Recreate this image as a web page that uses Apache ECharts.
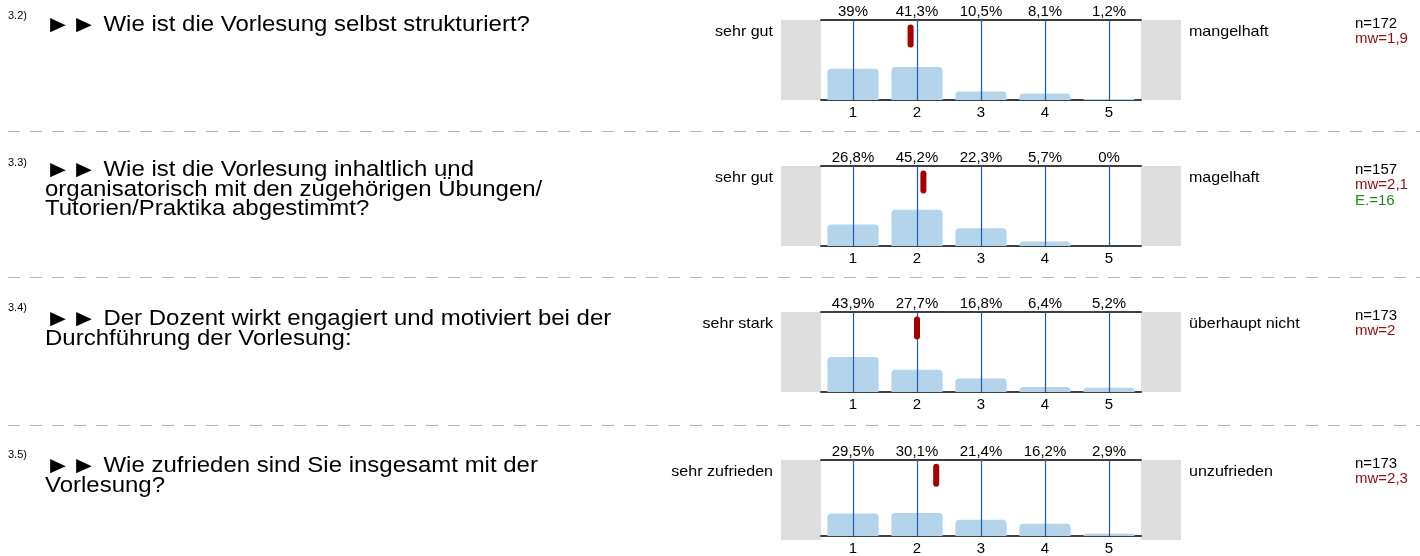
<!DOCTYPE html>
<html>
<head>
<meta charset="utf-8">
<script src="https://cdn.jsdelivr.net/npm/echarts@6/dist/echarts.min.js"></script>
<style>
html,body{margin:0;padding:0;background:#fff;}
#chart{width:1420px;height:556px;}
</style>
</head>
<body>
<div id="chart"></div>
<script>
// ---- data ----
const categories = ['1', '2', '3', '4', '5'];
const questionNumbers = ['3.2)', '3.3)', '3.4)', '3.5)'];
const questionLines = [
  ['Wie ist die Vorlesung selbst strukturiert?'],
  ['Wie ist die Vorlesung inhaltlich und', 'organisatorisch mit den zugehörigen Übungen/', 'Tutorien/Praktika abgestimmt?'],
  ['Der Dozent wirkt engagiert und motiviert bei der', 'Durchführung der Vorlesung:'],
  ['Wie zufrieden sind Sie insgesamt mit der', 'Vorlesung?']
];
const leftLabels = ['sehr gut', 'sehr gut', 'sehr stark', 'sehr zufrieden'];
const rightLabels = ['mangelhaft', 'magelhaft', 'überhaupt nicht', 'unzufrieden'];
const percentQ32 = [39, 41.3, 10.5, 8.1, 1.2];
const percentQ33 = [26.8, 45.2, 22.3, 5.7, 0];
const percentQ34 = [43.9, 27.7, 16.8, 6.4, 5.2];
const percentQ35 = [29.5, 30.1, 21.4, 16.2, 2.9];
const nValues = [172, 157, 173, 173];
const meanValues = [1.9, 2.1, 2, 2.3];
const abstentions = [null, 16, null, null];

// ---- layout ----
const percents = [percentQ32, percentQ33, percentQ34, percentQ35];
const tops = [20, 166, 312, 460];
const qLine1Center = [25, 170, 319, 466];
const numCenter = [16, 163, 308, 455];
const dividers = [131, 277, 425];
const FONT = '"Liberation Sans", Arial, sans-serif';
const fmt = v => String(v).replace('.', ',');

const chart = echarts.init(document.getElementById('chart'), null, {renderer: 'canvas'});
const option = {
  animation: false,
  backgroundColor: '#ffffff',
  grid: [], xAxis: [], yAxis: [], series: [], graphic: []
};

percents.forEach((pct, i) => {
  const top = tops[i];
  option.grid.push({left: 821, top: top, width: 320, height: 80, containLabel: false});
  const lineStyle = {color: '#3f3f3f', width: 2};
  option.xAxis.push({
    gridIndex: i, type: 'category', data: categories, position: 'bottom',
    axisLine: {lineStyle: lineStyle}, axisTick: {show: false}, splitLine: {show: false},
    axisLabel: {color: '#000', fontSize: 15, fontFamily: FONT, margin: 5}
  });
  option.xAxis.push({
    gridIndex: i, type: 'category', data: pct.map(v => fmt(v) + '%'), position: 'top',
    axisLine: {lineStyle: lineStyle}, axisTick: {show: false}, splitLine: {show: false},
    axisLabel: {color: '#000', fontSize: 15, fontFamily: FONT, margin: 1}
  });
  option.xAxis.push({gridIndex: i, type: 'value', min: 0.5, max: 5.5, show: false});
  option.yAxis.push({gridIndex: i, type: 'value', min: 0, max: 100, show: false});

  option.series.push({
    type: 'bar', xAxisIndex: 3 * i, yAxisIndex: i, data: pct,
    barCategoryGap: '20%',
    itemStyle: {color: '#b4d4eb', borderRadius: [4, 4, 0, 0]},
    silent: true,
    markLine: {
      silent: true, symbol: 'none', label: {show: false},
      lineStyle: {color: '#1d5aa8', width: 1.2, type: 'solid', opacity: 1},
      emphasis: {disabled: true},
      data: categories.map(c => ({xAxis: c}))
    }
  });
  option.series.push({
    type: 'scatter', xAxisIndex: 3 * i + 2, yAxisIndex: i,
    data: [[meanValues[i], 80]],
    symbol: 'path://M0,3A3,3,0,0,1,6,3L6,20A3,3,0,0,1,0,20Z',
    symbolSize: [6, 23],
    itemStyle: {color: '#a50000', opacity: 1}, z: 10, silent: true
  });

  // grey side boxes
  option.graphic.push({type: 'rect', shape: {x: 781, y: top, width: 40, height: 80}, style: {fill: '#dedede'}, silent: true});
  option.graphic.push({type: 'rect', shape: {x: 1141, y: top, width: 40, height: 80}, style: {fill: '#dedede'}, silent: true});
  // scale labels
  option.graphic.push({type: 'text', x: 773, y: top + 12, scaleX: 1.07, style: {text: leftLabels[i], fontSize: 15, fontFamily: FONT, fill: '#000', align: 'right', verticalAlign: 'middle'}});
  option.graphic.push({type: 'text', x: 1189, y: top + 12, scaleX: 1.07, style: {text: rightLabels[i], fontSize: 15, fontFamily: FONT, fill: '#000', align: 'left', verticalAlign: 'middle'}});
  // stats
  option.graphic.push({type: 'text', x: 1355, y: top + 4, style: {text: 'n=' + nValues[i], fontSize: 15, fontFamily: FONT, fill: '#000', align: 'left', verticalAlign: 'middle'}});
  option.graphic.push({type: 'text', x: 1355, y: top + 19, style: {text: 'mw=' + fmt(meanValues[i]), fontSize: 15, fontFamily: FONT, fill: '#8e0e0e', align: 'left', verticalAlign: 'middle'}});
  if (abstentions[i] !== null) {
    option.graphic.push({type: 'text', x: 1355, y: top + 35, style: {text: 'E.=' + abstentions[i], fontSize: 15, fontFamily: FONT, fill: '#1a8c1a', align: 'left', verticalAlign: 'middle'}});
  }
  // question number
  option.graphic.push({type: 'text', x: 8, y: numCenter[i], style: {text: questionNumbers[i], fontSize: 11, fontFamily: FONT, fill: '#000', align: 'left', verticalAlign: 'middle'}});
  // question text (rich: triangles + text lines)
  const lines = questionLines[i];
  const richText = lines.map((l, k) => (k === 0 ? '{tri|►►}{q| ' + l + '}' : '{q|' + l + '}')).join('\n');
  option.graphic.push({type: 'text', x: 45, y: qLine1Center[i] - 9.75, scaleX: 1.09, style: {
    text: richText, fontSize: 22, lineHeight: 19.5, fontFamily: FONT, fill: '#000', align: 'left', verticalAlign: 'top',
    rich: {
      tri: {fontFamily: FONT, fontSize: 24, lineHeight: 19.5, fill: '#000'},
      q: {fontFamily: FONT, fontSize: 22, lineHeight: 19.5, fill: '#000'}
    }
  }});
});

dividers.forEach(y => {
  option.graphic.push({type: 'line', shape: {x1: 8, y1: y + 0.5, x2: 1420, y2: y + 0.5}, style: {stroke: '#b4b4b4', lineWidth: 1, lineDash: [12, 10]}, silent: true});
});

chart.setOption(option);
</script>
</body>
</html>
